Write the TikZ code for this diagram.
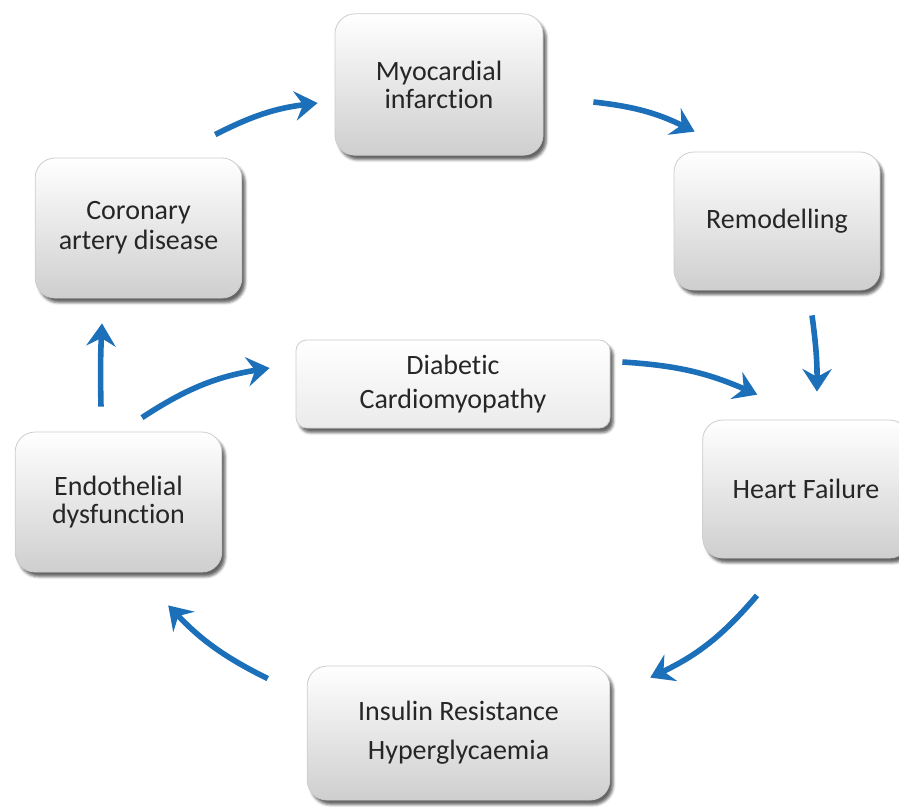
\documentclass[tikz,border=0pt]{standalone}
\usepackage{fontspec}
\setmainfont{Carlito}[Ligatures=NoCommon]
\usetikzlibrary{arrows.meta,shadows.blur}
\definecolor{flowblue}{RGB}{28,112,186}
\definecolor{boxline}{RGB}{205,205,205}

\begin{document}
\begin{tikzpicture}[x=0.75pt,y=-0.75pt,
        stage/.style={rounded corners=15pt,draw=boxline,line width=0.6pt,
            top color=white,bottom color=black!19,
            blur shadow={shadow xshift=2.5pt,shadow yshift=-3.5pt,shadow opacity=60},
            align=center,text=black!85,inner sep=0pt,
            font=\fontsize{21}{21}\selectfont},
        flow/.style={draw=flowblue,line width=4.2pt,
            -{Stealth[length=17pt,width=22pt,inset=6pt]}}]
        \path[use as bounding box,clip] (0,0) rectangle (899,808);
        \node[stage,minimum width=156pt,minimum height=106pt] (mi) at (439,84.5) {Myocardial\\infarction};
        \node[stage,minimum width=154.5pt,minimum height=103.5pt] (remod) at (777,221) {Remodelling};
        \node[stage,minimum width=155pt,minimum height=103.5pt] (hf) at (806,489) {Heart Failure};
        \node[stage,minimum width=227pt,minimum height=100.5pt] (ir) at (458.5,733) {Insulin Resistance\\[8pt]Hyperglycaemia};
        \node[stage,minimum width=155pt,minimum height=105pt] (endo) at (118.5,502) {Endothelial\\dysfunction};
        \node[stage,minimum width=155pt,minimum height=105pt] (cad) at (138.5,228) {Coronary\\[1.5pt]artery disease};
        \node[stage,rounded corners=8pt,bottom color=black!8,minimum width=235.5pt,minimum height=66pt] (dc) at (453,384) {Diabetic\\[4pt]Cardiomyopathy};
        \draw[flow] ([shift={(-27,-23)}]cad.north east) to[bend left=10] ([shift={(-17,18.5)}]mi.west);
        \draw[flow] ([shift={(50,17.5)}]mi.east) to[bend left=10] ([shift={(21,-20)}]remod.north west);
        \draw[flow] ([shift={(35,25)}]remod.south) to[bend left=4] ([shift={(11,-28)}]hf.north);
        \draw[flow] ([shift={(-49,37)}]hf.south) to[bend left=12] ([shift={(40,12)}]ir.north east);
        \draw[flow] ([shift={(-39,13)}]ir.north west) to[bend left=10] ([shift={(-54,33)}]endo.south east);
        \draw[flow] ([shift={(-17.5,-25)}]endo.north) to[bend left=2] ([shift={(-36.5,25)}]cad.south);
        \draw[flow] ([shift={(23.5,-14)}]endo.north) to[bend left=12] ([shift={(-26,-16)}]dc.west);
        \draw[flow] ([shift={(12,-22)}]dc.east) to[bend left=10] ([shift={(55,-25)}]hf.north west);
    \end{tikzpicture}
\end{document}
